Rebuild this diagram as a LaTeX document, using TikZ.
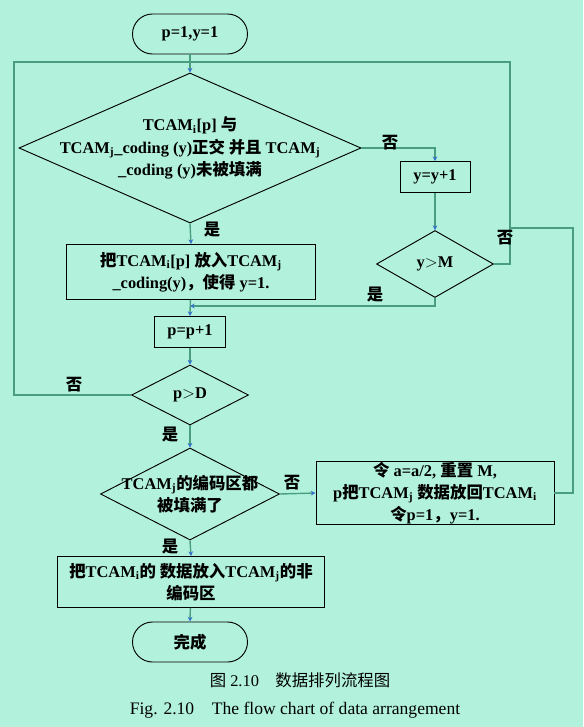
\documentclass[tikz,border=0pt]{standalone}
\usepackage{fontspec}
\setmainfont{Liberation Serif}
\newfontfamily\cjk{Noto Sans CJK SC}
\usepackage{tikz}
\usetikzlibrary{shapes.geometric,arrows.meta}
\definecolor{bgmint}{RGB}{178,242,221}
\definecolor{linkteal}{RGB}{74,158,128}
\definecolor{tipblue}{RGB}{52,112,205}
\newcommand{\zh}[1]{{\cjk #1}}
\newcommand{\ti}{\textsubscript{i}}
\newcommand{\tj}{\textsubscript{j}}

\begin{document}
\begin{tikzpicture}[x=0.03cm,y=-0.03cm,
  font=\fontsize{14}{19}\selectfont\bfseries,
  link/.style={draw=linkteal,line width=1.2pt},
  arrowlink/.style={link,-{Stealth[length=4pt,width=4pt,color=tipblue]}},
  terminal/.style={draw,line width=0.8pt,rounded corners=0.6cm,minimum width=3.45cm,minimum height=1.2cm,inner sep=0pt},
  process/.style={draw,line width=0.8pt,inner sep=0pt,align=center},
  decision/.style={draw,line width=0.8pt,diamond,inner sep=0pt}]
\fill[bgmint] (0,0) rectangle (583,727);
\useasboundingbox (0,0) rectangle (583,727);

\node[terminal] (start) at (190,34) {p=1,y=1};
\node[decision,minimum width=10.26cm,minimum height=4.5cm,
  label={[align=center]center:TCAM\ti[p] \zh{与}\\TCAM\tj\_coding (y)\zh{正交 并且} TCAM\tj\\\_coding (y)\zh{未被填满}}] (d1) at (190,148) {};
\node[process,minimum width=2.1cm,minimum height=0.93cm] (yinc) at (435,177) {y=y+1};
\node[decision,minimum width=3.51cm,minimum height=2.01cm] (ym) at (435,264) {y$>$M};
\node[process,minimum width=7.47cm,minimum height=1.65cm] (box2) at (191,272) {\zh{把}TCAM\ti[p] \zh{放入}TCAM\tj\\\_coding(y)\zh{，使得} y=1.};
\node[process,minimum width=2.13cm,minimum height=0.93cm] (pinc) at (190,332) {p=p+1};
\node[decision,minimum width=3.51cm,minimum height=1.8cm] (pd) at (190,395) {p$>$D};
\node[decision,minimum width=5.37cm,minimum height=2.76cm,
  label={[align=center]center:TCAM\tj\zh{的编码区都}\\\zh{被填满了}}] (d3) at (190,494) {};
\node[process,minimum width=7.14cm,minimum height=1.89cm] (box3) at (435,493) {\zh{令} a=a/2, \zh{重置} M,\\p\zh{把}TCAM\tj\ \zh{数据放回}TCAM\ti\\\zh{令}p=1\zh{，}y=1.};
\node[process,minimum width=8.01cm,minimum height=1.53cm] (box4) at (191,582) {\zh{把}TCAM\ti\zh{的 数据放入}TCAM\tj\zh{的非}\\\zh{编码区}};
\node[terminal] (done) at (190,642) {\zh{完成}};

\coordinate (top) at (190,62);
\coordinate (tl) at (14,62);
\coordinate (tr) at (510,62);
\coordinate (rj) at (573,228);
\coordinate (rloop) at (510,228);
\coordinate (jn) at (190,306);

\draw[arrowlink] (start) -- (d1.north);
\draw[arrowlink] (d1.east) -| (yinc.north);
\draw[arrowlink] (yinc) -- (ym.north);
\draw[link] (ym.east) -| (tr) -- (top);
\draw[arrowlink] (d1.south) -- (box2.north);
\draw[arrowlink] (ym.south) |- (jn);
\draw[arrowlink] (box2) -- (pinc.north);
\draw[arrowlink] (pinc) -- (pd.north);
\draw[link] (pd.west) -| (tl) -- (top);
\draw[arrowlink] (pd.south) -- (d3.north);
\draw[arrowlink] (d3.east) -- (box3.west);
\draw[link] (box3.east) -| (rj) -- (rloop);
\draw[arrowlink] (d3.south) -- (box4.north);
\draw[arrowlink] (box4) -- (done.north);

\node (no1) at (390,143) {\zh{否}};
\node (no2) at (505,238) {\zh{否}};
\node (yes1) at (212,230) {\zh{是}};
\node (yes2) at (375,295) {\zh{是}};
\node (no3) at (74,385) {\zh{否}};
\node (yes3) at (170,435) {\zh{是}};
\node (no4) at (292,483) {\zh{否}};
\node (yes4) at (170,547) {\zh{是}};

\node[font=\fontsize{14}{16}\selectfont] (capzh) at (300,680) {\zh{图} 2.10\quad\zh{数据排列流程图}};
\node[font=\fontsize{15}{17}\selectfont] (capen) at (295,710) {Fig. 2.10\quad The flow chart of data arrangement};
\end{tikzpicture}
\end{document}
